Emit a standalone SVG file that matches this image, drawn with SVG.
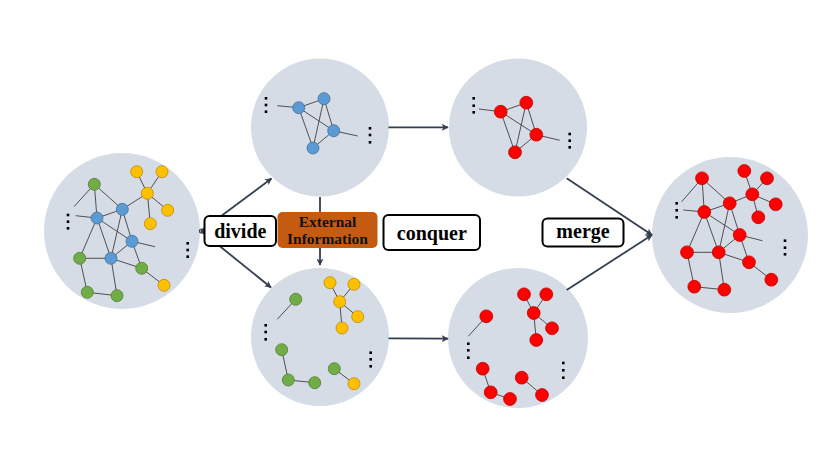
<svg xmlns="http://www.w3.org/2000/svg" width="830" height="467" viewBox="0 0 830 467">
<defs>
<style>
.bg{fill:#D6DCE5}
.e{stroke:#404040;stroke-width:0.9;fill:none}
.b{fill:#5B9BD5;stroke:#41719C;stroke-width:0.8}
.g{fill:#70AD47;stroke:#507E32;stroke-width:0.8}
.y{fill:#FFC000;stroke:#BC8C00;stroke-width:0.8}
.r{fill:#FF0000;stroke:#C00000;stroke-width:0.8}
.d{fill:#000}
.a{stroke:#333F50;stroke-width:1.8;fill:none}
.box{fill:#fff;stroke:#000;stroke-width:2}
.lbl{font-family:"Liberation Serif","Times New Roman",serif;font-weight:bold;font-size:20px;fill:#000;text-anchor:middle}
.ext{font-family:"Liberation Serif","Times New Roman",serif;font-weight:bold;font-size:15.5px;fill:#111;text-anchor:middle}
</style>
<marker id="ah" viewBox="0 0 10 10" refX="9" refY="5" markerWidth="7" markerHeight="7" markerUnits="userSpaceOnUse" orient="auto">
<path d="M0,0 L10,5 L0,10 L2.5,5 Z" fill="#333F50"/>
</marker>
</defs>

<!-- Left graph -->
<g id="graphLeft">
<circle class="bg" cx="122" cy="231" r="78"/>
<g class="e">
<line x1="94.3" y1="184.3" x2="74" y2="206.7"/>
<line x1="94.3" y1="184.3" x2="97" y2="218"/>
<line x1="94.3" y1="184.3" x2="122.3" y2="209.3"/>
<line x1="75.7" y1="215.7" x2="97" y2="218"/>
<line x1="97" y1="218" x2="122.3" y2="209.3"/>
<line x1="122.3" y1="209.3" x2="147.3" y2="193.3"/>
<line x1="147.3" y1="193.3" x2="136.7" y2="171.7"/>
<line x1="147.3" y1="193.3" x2="162" y2="171.7"/>
<line x1="147.3" y1="193.3" x2="167.7" y2="210.3"/>
<line x1="147.3" y1="193.3" x2="150.3" y2="223.7"/>
<line x1="97" y1="218" x2="132" y2="241.3"/>
<line x1="132" y1="241.3" x2="155" y2="246.7"/>
<line x1="97" y1="218" x2="79.7" y2="258.3"/>
<line x1="97" y1="218" x2="111" y2="258.3"/>
<line x1="122.3" y1="209.3" x2="111" y2="258.3"/>
<line x1="122.3" y1="209.3" x2="132" y2="241.3"/>
<line x1="132" y1="241.3" x2="111" y2="258.3"/>
<line x1="132" y1="241.3" x2="141.7" y2="268.3"/>
<line x1="79.7" y1="258.3" x2="111" y2="258.3"/>
<line x1="111" y1="258.3" x2="141.7" y2="268.3"/>
<line x1="79.7" y1="258.3" x2="87.3" y2="292.3"/>
<line x1="87.3" y1="292.3" x2="117" y2="295.7"/>
<line x1="111" y1="258.3" x2="117" y2="295.7"/>
<line x1="141.7" y1="268.3" x2="164" y2="285.3"/>
</g>
<circle class="g" cx="94.3" cy="184.3" r="6"/>
<circle class="y" cx="136.7" cy="171.7" r="6"/>
<circle class="y" cx="162" cy="171.7" r="6"/>
<circle class="y" cx="147.3" cy="193.3" r="6"/>
<circle class="y" cx="167.7" cy="210.3" r="6"/>
<circle class="y" cx="150.3" cy="223.7" r="6"/>
<circle class="b" cx="122.3" cy="209.3" r="6"/>
<circle class="b" cx="97" cy="218" r="6"/>
<circle class="b" cx="132" cy="241.3" r="6"/>
<circle class="b" cx="111" cy="258.3" r="6"/>
<circle class="g" cx="79.7" cy="258.3" r="6"/>
<circle class="g" cx="141.7" cy="268.3" r="6"/>
<circle class="y" cx="164" cy="285.3" r="6"/>
<circle class="g" cx="87.3" cy="292.3" r="6"/>
<circle class="g" cx="117" cy="295.7" r="6"/>
<rect class="d" x="66.7" y="213.7" width="2.6" height="2.6"/>
<rect class="d" x="66.7" y="220.4" width="2.6" height="2.6"/>
<rect class="d" x="66.7" y="227" width="2.6" height="2.6"/>
<rect class="d" x="186.4" y="242" width="2.6" height="2.6"/>
<rect class="d" x="186.4" y="248.7" width="2.6" height="2.6"/>
<rect class="d" x="186.4" y="255.4" width="2.6" height="2.6"/>
</g>

<!-- Top middle graph -->
<g id="graphTopMid">
<circle class="bg" cx="320" cy="127.5" r="69"/>
<g class="e">
<line x1="277.3" y1="105.7" x2="298.7" y2="107.7"/>
<line x1="298.7" y1="107.7" x2="324" y2="98.7"/>
<line x1="298.7" y1="107.7" x2="333.7" y2="130.7"/>
<line x1="298.7" y1="107.7" x2="313" y2="148"/>
<line x1="324" y1="98.7" x2="313" y2="148"/>
<line x1="324" y1="98.7" x2="333.7" y2="130.7"/>
<line x1="333.7" y1="130.7" x2="313" y2="148"/>
<line x1="333.7" y1="130.7" x2="357.7" y2="136"/>
</g>
<circle class="b" cx="298.7" cy="107.7" r="6"/>
<circle class="b" cx="324" cy="98.7" r="6"/>
<circle class="b" cx="333.7" cy="130.7" r="6"/>
<circle class="b" cx="313" cy="148" r="6"/>
<rect class="d" x="264.7" y="97" width="2.6" height="2.6"/>
<rect class="d" x="264.7" y="103.7" width="2.6" height="2.6"/>
<rect class="d" x="264.7" y="110.4" width="2.6" height="2.6"/>
<rect class="d" x="368.7" y="127" width="2.6" height="2.6"/>
<rect class="d" x="368.7" y="133.7" width="2.6" height="2.6"/>
<rect class="d" x="368.7" y="141" width="2.6" height="2.6"/>
</g>

<!-- Top right graph -->
<g id="graphTopRight">
<circle class="bg" cx="518" cy="127.5" r="69"/>
<g class="e">
<line x1="479" y1="109" x2="500.7" y2="111.7"/>
<line x1="500.7" y1="111.7" x2="526.3" y2="102.7"/>
<line x1="500.7" y1="111.7" x2="536.3" y2="134.7"/>
<line x1="500.7" y1="111.7" x2="515" y2="152.3"/>
<line x1="526.3" y1="102.7" x2="515" y2="152.3"/>
<line x1="526.3" y1="102.7" x2="536.3" y2="134.7"/>
<line x1="536.3" y1="134.7" x2="515" y2="152.3"/>
<line x1="536.3" y1="134.7" x2="559.7" y2="140.3"/>
</g>
<circle class="r" cx="500.7" cy="111.7" r="6.4"/>
<circle class="r" cx="526.3" cy="102.7" r="6.4"/>
<circle class="r" cx="536.3" cy="134.7" r="6.4"/>
<circle class="r" cx="515" cy="152.3" r="6.4"/>
<rect class="d" x="472.4" y="97" width="2.6" height="2.6"/>
<rect class="d" x="472.4" y="104.4" width="2.6" height="2.6"/>
<rect class="d" x="472.4" y="111" width="2.6" height="2.6"/>
<rect class="d" x="568.4" y="132.7" width="2.6" height="2.6"/>
<rect class="d" x="568.4" y="139.4" width="2.6" height="2.6"/>
<rect class="d" x="568.4" y="146" width="2.6" height="2.6"/>
</g>

<!-- Bottom middle graph -->
<g id="graphBottomMid">
<circle class="bg" cx="320" cy="337" r="69"/>
<g class="e">
<line x1="295.7" y1="299.3" x2="277.3" y2="319.3"/>
<line x1="339.7" y1="301.7" x2="330" y2="282.7"/>
<line x1="339.7" y1="301.7" x2="354" y2="284.3"/>
<line x1="339.7" y1="301.7" x2="357.7" y2="316.7"/>
<line x1="339.7" y1="301.7" x2="342" y2="328"/>
<line x1="281.7" y1="349.7" x2="288.3" y2="380"/>
<line x1="288.3" y1="380" x2="314.7" y2="382.7"/>
<line x1="334.3" y1="368.7" x2="354" y2="383.7"/>
</g>
<circle class="g" cx="295.7" cy="299.3" r="6"/>
<circle class="y" cx="330" cy="282.7" r="6"/>
<circle class="y" cx="354" cy="284.3" r="6"/>
<circle class="y" cx="339.7" cy="301.7" r="6"/>
<circle class="y" cx="357.7" cy="316.7" r="6"/>
<circle class="y" cx="342" cy="328" r="6"/>
<circle class="g" cx="281.7" cy="349.7" r="6"/>
<circle class="g" cx="288.3" cy="380" r="6"/>
<circle class="g" cx="314.7" cy="382.7" r="6"/>
<circle class="g" cx="334.3" cy="368.7" r="6"/>
<circle class="y" cx="354" cy="383.7" r="6"/>
<rect class="d" x="264.4" y="324" width="2.6" height="2.6"/>
<rect class="d" x="264.4" y="330.7" width="2.6" height="2.6"/>
<rect class="d" x="264.4" y="338" width="2.6" height="2.6"/>
<rect class="d" x="369.4" y="351.4" width="2.6" height="2.6"/>
<rect class="d" x="369.4" y="358" width="2.6" height="2.6"/>
<rect class="d" x="369.4" y="365" width="2.6" height="2.6"/>
</g>

<!-- Bottom right graph -->
<g id="graphBottomRight">
<circle class="bg" cx="518" cy="338" r="70"/>
<g class="e">
<line x1="486.3" y1="316.3" x2="468.3" y2="336.3"/>
<line x1="533.7" y1="313" x2="524" y2="294.3"/>
<line x1="533.7" y1="313" x2="546.3" y2="294.3"/>
<line x1="533.7" y1="313" x2="552" y2="328.3"/>
<line x1="533.7" y1="313" x2="536.3" y2="340"/>
<line x1="482.7" y1="368.7" x2="490.7" y2="392.3"/>
<line x1="490.7" y1="392.3" x2="510" y2="399"/>
<line x1="521.7" y1="377.7" x2="542" y2="395"/>
</g>
<circle class="r" cx="486.3" cy="316.3" r="6.4"/>
<circle class="r" cx="524" cy="294.3" r="6.4"/>
<circle class="r" cx="546.3" cy="294.3" r="6.4"/>
<circle class="r" cx="533.7" cy="313" r="6.4"/>
<circle class="r" cx="552" cy="328.3" r="6.4"/>
<circle class="r" cx="536.3" cy="340" r="6.4"/>
<circle class="r" cx="482.7" cy="368.7" r="6.4"/>
<circle class="r" cx="490.7" cy="392.3" r="6.4"/>
<circle class="r" cx="510" cy="399" r="6.4"/>
<circle class="r" cx="521.7" cy="377.7" r="6.4"/>
<circle class="r" cx="542" cy="395" r="6.4"/>
<rect class="d" x="467" y="342.4" width="2.6" height="2.6"/>
<rect class="d" x="467" y="349" width="2.6" height="2.6"/>
<rect class="d" x="467" y="356.4" width="2.6" height="2.6"/>
<rect class="d" x="562" y="361.7" width="2.6" height="2.6"/>
<rect class="d" x="562" y="369" width="2.6" height="2.6"/>
<rect class="d" x="562" y="376.4" width="2.6" height="2.6"/>
</g>

<!-- Right graph -->
<g id="graphRight">
<circle class="bg" cx="730" cy="235" r="78"/>
<g class="e">
<line x1="702" y1="178.3" x2="681.7" y2="201.7"/>
<line x1="702" y1="178.3" x2="704.3" y2="212"/>
<line x1="702" y1="178.3" x2="729.7" y2="203.3"/>
<line x1="683.3" y1="210" x2="704.3" y2="212"/>
<line x1="704.3" y1="212" x2="729.7" y2="203.3"/>
<line x1="729.7" y1="203.3" x2="752.3" y2="194.3"/>
<line x1="752.3" y1="194.3" x2="744.3" y2="171"/>
<line x1="752.3" y1="194.3" x2="767" y2="178.3"/>
<line x1="752.3" y1="194.3" x2="775.7" y2="204.3"/>
<line x1="752.3" y1="194.3" x2="758.3" y2="217.3"/>
<line x1="704.3" y1="212" x2="739.7" y2="235"/>
<line x1="739.7" y1="235" x2="762.3" y2="240.7"/>
<line x1="704.3" y1="212" x2="687" y2="252.3"/>
<line x1="704.3" y1="212" x2="718.7" y2="252.3"/>
<line x1="729.7" y1="203.3" x2="718.7" y2="252.3"/>
<line x1="729.7" y1="203.3" x2="739.7" y2="235"/>
<line x1="739.7" y1="235" x2="718.7" y2="252.3"/>
<line x1="739.7" y1="235" x2="749" y2="262.3"/>
<line x1="687" y1="252.3" x2="718.7" y2="252.3"/>
<line x1="718.7" y1="252.3" x2="749" y2="262.3"/>
<line x1="687" y1="252.3" x2="694.3" y2="286.7"/>
<line x1="694.3" y1="286.7" x2="724.3" y2="289.7"/>
<line x1="718.7" y1="252.3" x2="724.3" y2="289.7"/>
<line x1="749" y1="262.3" x2="771.3" y2="279.7"/>
</g>
<circle class="r" cx="702" cy="178.3" r="6.4"/>
<circle class="r" cx="744.3" cy="171" r="6.4"/>
<circle class="r" cx="767" cy="178.3" r="6.4"/>
<circle class="r" cx="752.3" cy="194.3" r="6.4"/>
<circle class="r" cx="775.7" cy="204.3" r="6.4"/>
<circle class="r" cx="758.3" cy="217.3" r="6.4"/>
<circle class="r" cx="729.7" cy="203.3" r="6.4"/>
<circle class="r" cx="704.3" cy="212" r="6.4"/>
<circle class="r" cx="739.7" cy="235" r="6.4"/>
<circle class="r" cx="718.7" cy="252.3" r="6.4"/>
<circle class="r" cx="687" cy="252.3" r="6.4"/>
<circle class="r" cx="749" cy="262.3" r="6.4"/>
<circle class="r" cx="771.3" cy="279.7" r="6.4"/>
<circle class="r" cx="694.3" cy="286.7" r="6.4"/>
<circle class="r" cx="724.3" cy="289.7" r="6.4"/>
<rect class="d" x="675.4" y="202" width="2.6" height="2.6"/>
<rect class="d" x="675.4" y="209" width="2.6" height="2.6"/>
<rect class="d" x="675.4" y="216" width="2.6" height="2.6"/>
<rect class="d" x="783.7" y="239.4" width="2.6" height="2.6"/>
<rect class="d" x="783.7" y="246.4" width="2.6" height="2.6"/>
<rect class="d" x="783.7" y="253" width="2.6" height="2.6"/>
</g>

<!-- Connectors -->
<g id="connectors">
<line class="a" x1="201" y1="231" x2="271.5" y2="178.5" marker-end="url(#ah)"/>
<line class="a" x1="201" y1="231" x2="271" y2="287.5" marker-end="url(#ah)"/>
<circle cx="201.5" cy="231" r="2" fill="none" stroke="#333F50" stroke-width="1.2"/>
<line class="a" x1="320" y1="197" x2="320" y2="265" marker-end="url(#ah)"/>
<line class="a" x1="388.5" y1="127.3" x2="448" y2="127.3" marker-end="url(#ah)"/>
<line class="a" x1="388.5" y1="338.3" x2="448" y2="338.7" marker-end="url(#ah)"/>
<line class="a" x1="566.7" y1="178.3" x2="652" y2="235" marker-end="url(#ah)"/>
<line class="a" x1="566.7" y1="290" x2="652" y2="235" marker-end="url(#ah)"/>
</g>

<!-- Labels -->
<g id="divide">
<rect class="box" x="204.5" y="216" width="71.5" height="30" rx="5"/>
<text class="lbl" x="240.3" y="238">divide</text>
</g>
<g id="external">
<rect x="277.5" y="212" width="100" height="36" rx="5" fill="#C55A11"/>
<text class="ext" x="327.5" y="226.5">External</text>
<text class="ext" x="327.5" y="243.5">Information</text>
</g>
<g id="conquer">
<rect class="box" x="383.5" y="215" width="96.5" height="35" rx="5"/>
<text class="lbl" x="431.8" y="239.5">conquer</text>
</g>
<g id="merge">
<rect class="box" x="542.5" y="218.5" width="81" height="28" rx="5"/>
<text class="lbl" x="583" y="238">merge</text>
</g>
</svg>
